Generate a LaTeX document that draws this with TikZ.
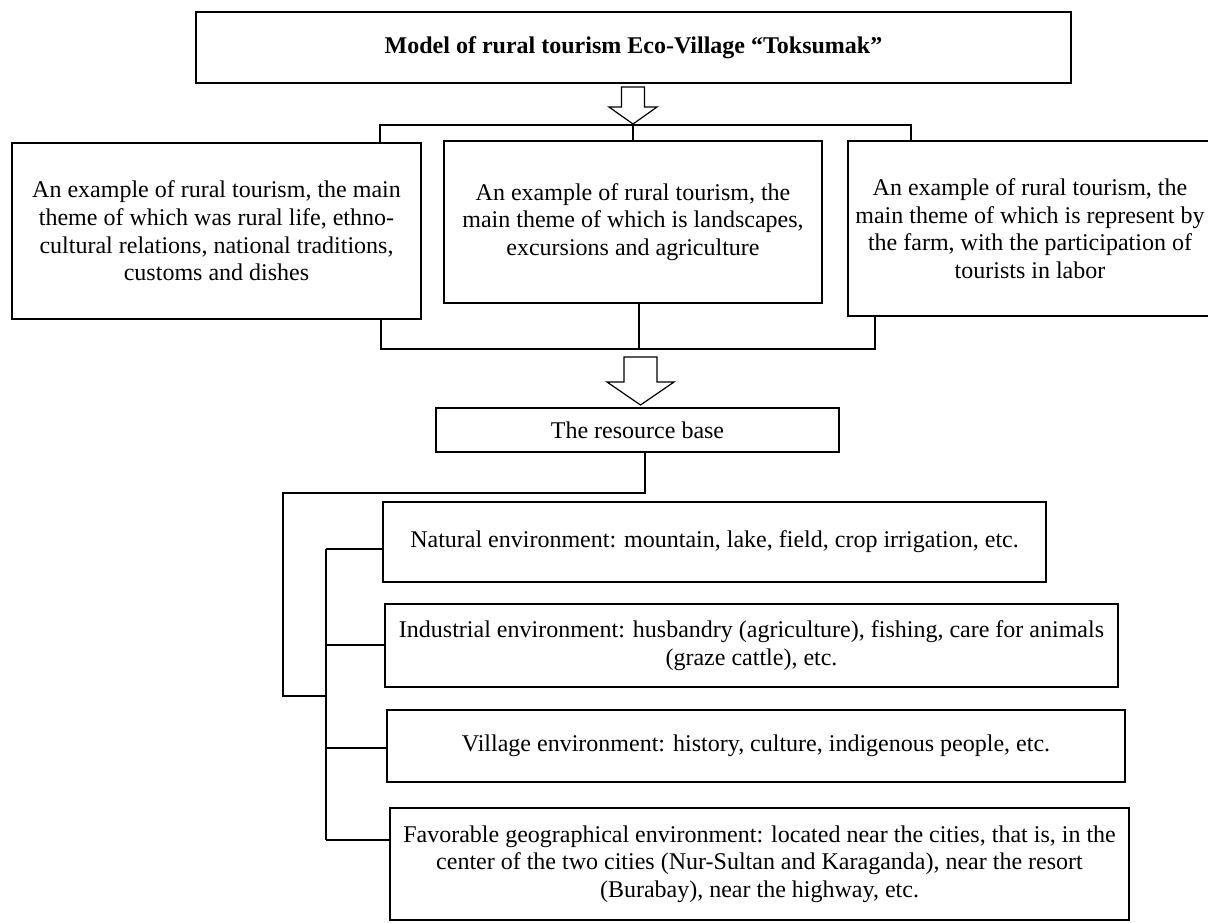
\documentclass[tikz,border=0pt]{standalone}
\usepackage{fontspec}
\setmainfont{Liberation Serif}
\tikzset{
    box/.style={draw,line width=0.6pt,align=center,inner sep=2pt,font=\fontsize{12}{13.8}\selectfont},
    link/.style={line width=0.6pt},
}
% hollow down arrow: centre x, top, head base, tip, half shaft, half head
\newcommand{\hollowarrow}[6]{%
    \draw[link,fill=white] ({#1-#5},#2)--({#1+#5},#2)--({#1+#5},#3)--({#1+#6},#3)--(#1,#4)--({#1-#6},#3)--({#1-#5},#3)--cycle;}

\begin{document}
\begin{tikzpicture}[x=0.5pt,y=-0.5pt]
            \useasboundingbox (0,0) rectangle (1208,922);
            \node[box,minimum width=437.5pt,minimum height=35.5pt] (title) at (633.5,47.5)
                {\textbf{Model of rural tourism Eco-Village ``Toksumak''}};
            \node[box,minimum width=204.5pt,minimum height=88pt] (ex1) at (216.5,231)
                {An example of rural tourism, the main\\theme of which was rural life, ethno-\\cultural relations, national traditions,\\customs and dishes};
            \node[box,minimum width=189pt,minimum height=81pt] (ex2) at (633,222)
                {An example of rural tourism, the\\main theme of which is landscapes,\\excursions and agriculture};
            \node[box,minimum width=182pt,minimum height=87.5pt] (ex3) at (1030,228.5)
                {An example of rural tourism, the\\main theme of which is represent by\\the farm, with the participation of\\tourists in labor};
            \node[box,minimum width=201.5pt,minimum height=22pt] (res) at (637.5,430) {The resource base};
            \node[box,minimum width=331.5pt,minimum height=40pt] (nat) at (714.5,542)
                {Natural environment: mountain, lake, field, crop irrigation, etc.};
            \node[box,minimum width=366.5pt,minimum height=41.5pt] (ind) at (751.5,645.5)
                {Industrial environment: husbandry (agriculture), fishing, care for animals\\(graze cattle), etc.};
            \node[box,minimum width=369pt,minimum height=36pt] (vil) at (756,746)
                {Village environment: history, culture, indigenous people, etc.};
            \node[box,minimum width=369.5pt,minimum height=56pt] (fav) at (759.5,864)
                {Favorable geographical environment: located near the cities, that is, in the\\center of the two cities (Nur-Sultan and Karaganda), near the resort\\(Burabay), near the highway, etc.};
            % brackets round the three examples
            \coordinate (tl) at (380,125);
            \coordinate (tr) at (911,125);
            \draw[link] (tl |- ex1.north)--(tl)--(tr)--(tr |- ex3.north);
            \draw[link] (ex2.north)--(ex2.north |- tl);
            \coordinate (bl) at (381,349);
            \coordinate (br) at (875,349);
            \coordinate (bm) at (639,349);
            \draw[link] (bl |- ex1.south)--(bl)--(br)--(br |- ex3.south);
            \draw[link] (bm |- ex2.south)--(bm);
            \hollowarrow{633}{87}{107}{124}{11.5}{24}
            \hollowarrow{640.5}{357}{382}{405}{16.5}{33.5}
            % resource tree
            \foreach \n/\y in {nat/549,ind/645,vil/748,fav/840}{
                \coordinate (s\n) at (326,\y);
                \draw[link] (s\n)--(s\n -| \n.west);
            }
            \draw[link] (snat)--(sfav);
            \coordinate (r1) at (645,493);
            \coordinate (r2) at (283,696);
            \draw[link] (r1 |- res.south)--(r1) -| (r2)--(r2 -| snat);
        \end{tikzpicture}
\end{document}
